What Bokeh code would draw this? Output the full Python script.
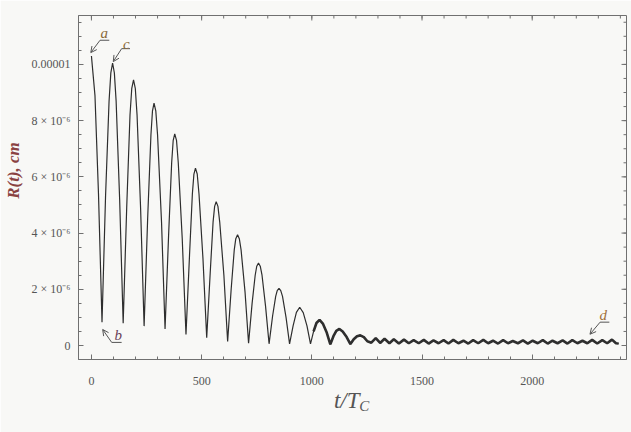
import numpy as np
from bokeh.plotting import figure
from bokeh.models import Range1d, FixedTicker, LinearAxis, Label, Arrow, OpenHead
from bokeh.embed import file_html
from bokeh.resources import INLINE

# ---------------- data (R in units of 1e-6 cm) ----------------
t_main = [0, 16, 32, 48, 64, 80, 88, 96, 104, 112, 128, 144, 160, 175, 183, 191, 199, 207, 223, 239,
          255, 270, 277, 284, 292, 300, 318, 334, 350, 364, 371, 378, 386, 394, 412, 429, 445, 458,
          465, 472, 480, 488, 506, 523, 539, 552, 559, 566, 574, 582, 601, 618, 634, 648, 655, 663,
          671, 679, 697, 713, 729, 743, 750, 758, 766, 774, 790, 806, 822, 836, 843, 851, 859, 867,
          883, 899, 915, 930, 945, 961, 978, 994, 1008, 1021, 1035, 1050, 1068, 1084, 1098, 1111,
          1125, 1140, 1158, 1175, 1190, 1205, 1220, 1236]
r_main = [10.30, 8.9, 5.4, 0.83, 5.3, 8.7, 9.7, 10.05, 9.7, 8.7, 5.2, 0.79, 4.9, 8.2, 9.15, 9.45, 9.15, 8.2, 4.9, 0.69,
          4.5, 7.5, 8.35, 8.62, 8.35, 7.5, 4.4, 0.59, 3.9, 6.5, 7.3, 7.53, 7.3, 6.5, 3.8, 0.39, 3.2, 5.4,
          6.1, 6.31, 6.1, 5.4, 3.1, 0.28, 2.6, 4.4, 4.95, 5.12, 4.95, 4.4, 2.5, 0.14, 2.0, 3.4, 3.8, 3.94,
          3.8, 3.4, 1.9, 0.08, 1.5, 2.5, 2.82, 2.93, 2.82, 2.5, 1.4, 0.06, 1.05, 1.75, 1.95, 2.03, 1.95, 1.75,
          1.0, 0.06, 0.7, 1.18, 1.36, 1.17, 0.7, 0.06, 0.5, 0.8, 0.91, 0.78, 0.45, 0.04, 0.33, 0.52,
          0.59, 0.5, 0.3, 0.05, 0.22, 0.33, 0.36, 0.3]
t_tail = [1252, 1270, 1290, 1310, 1330, 1352, 1372, 1395, 1418, 1440, 1462, 1485, 1508,
          1530, 1552, 1575, 1598, 1620, 1642, 1665, 1688, 1710, 1732, 1755, 1778, 1800,
          1822, 1845, 1868, 1890, 1912, 1935, 1958, 1980, 2002, 2025, 2048, 2070, 2092,
          2115, 2138, 2160, 2182, 2205, 2228, 2250, 2272, 2295, 2318, 2340, 2362, 2380, 2392]
r_tail = [0.15, 0.10, 0.26, 0.09, 0.24, 0.08, 0.22, 0.07, 0.21, 0.08, 0.19, 0.08, 0.20,
          0.07, 0.18, 0.08, 0.19, 0.07, 0.20, 0.08, 0.17, 0.07, 0.19, 0.08, 0.20, 0.08,
          0.17, 0.07, 0.19, 0.08, 0.16, 0.08, 0.18, 0.07, 0.17, 0.08, 0.19, 0.07, 0.17,
          0.08, 0.18, 0.07, 0.19, 0.08, 0.17, 0.08, 0.20, 0.07, 0.19, 0.08, 0.21, 0.08, 0.07]

x_tick_values = [0, 500, 1000, 1500, 2000]
x_tick_labels = ["0", "500", "1000", "1500", "2000"]
y_tick_values = [0, 2e-6, 4e-6, 6e-6, 8e-6, 1e-5]
y_tick_labels = ["0", "2 \u00d7 10\u207b\u2076", "4 \u00d7 10\u207b\u2076", "6 \u00d7 10\u207b\u2076",
                 "8 \u00d7 10\u207b\u2076", "0.00001"]
UNIT = 1e-6

# ---------------- styling ----------------
BG = "#f8f8f6"
FRAME = "#707070"
CURVE = "#2e2e2e"
TXT = "#555555"
SERIF = "Liberation Serif"
NBSP = "\u00a0"

X0, X1 = -58.7, 2427.8
Y0, Y1 = -0.498e-6, 11.74e-6
FRAME_W, FRAME_H = 551, 344

t_all = np.array(t_main + t_tail, dtype=float)
r_all = np.array(r_main + r_tail, dtype=float) * UNIT

p = figure(width=631, height=432, output_backend="svg", toolbar_location=None,
           x_range=Range1d(X0, X1), y_range=Range1d(Y0, Y1),
           min_border_left=75, min_border_right=5, min_border_top=15, min_border_bottom=73,
           background_fill_color=BG, border_fill_color=BG,
           outline_line_color=FRAME, x_axis_type=None, y_axis_type=None)
p.grid.visible = False

x_minor = [v for v in range(0, 2401, 100)]
y_minor = [i * 0.5e-6 for i in range(0, 24)]

def make_axis(ticks, minor, labels):
    ax = LinearAxis(ticker=FixedTicker(ticks=ticks, minor_ticks=minor),
                    major_tick_in=5, major_tick_out=0, minor_tick_in=3, minor_tick_out=0,
                    axis_line_color=FRAME, major_tick_line_color=FRAME, minor_tick_line_color=FRAME)
    ax.major_label_overrides = {v: l for v, l in zip(ticks, labels)}
    ax.major_label_text_font = SERIF
    ax.major_label_text_font_size = "12px"
    ax.major_label_text_color = TXT
    return ax

xb = make_axis(x_tick_values, x_minor, x_tick_labels)
xb.major_label_standoff = 17
xb.axis_label = "t/T" + NBSP * 2
xb.axis_label_text_font = SERIF
xb.axis_label_text_font_style = "italic"
xb.axis_label_text_font_size = "23px"
xb.axis_label_text_color = TXT
xb.axis_label_standoff = 0
p.add_layout(xb, "below")

# subscript "C" of the x title, drawn as the single label of a bare extra axis
C_POS = [1238]
xc = LinearAxis(ticker=FixedTicker(ticks=C_POS, minor_ticks=[]),
                major_label_overrides={C_POS[0]: "C"},
                major_tick_in=0, major_tick_out=0, axis_line_color=None,
                major_tick_line_color=None, minor_tick_line_color=None,
                major_label_text_font=SERIF, major_label_text_font_style="italic",
                major_label_text_font_size="15px", major_label_text_color=TXT,
                major_label_standoff=-18)
p.add_layout(xc, "below")

yl = make_axis(y_tick_values, y_minor, y_tick_labels)
yl.major_label_standoff = 8
yl.axis_label = NBSP * 8 + "R(t), cm"
yl.axis_label_text_font = SERIF
yl.axis_label_text_font_style = "bold italic"
yl.axis_label_text_font_size = "17px"
yl.axis_label_text_color = "#8a4242"
yl.axis_label_standoff = 6
p.add_layout(yl, "left")

# inward ticks on the top and right sides of the frame (mirroring the axis tickers)
dx_major, dx_minor = 5 * (X1 - X0) / FRAME_W, 3 * (X1 - X0) / FRAME_W
dy_major, dy_minor = 5 * (Y1 - Y0) / FRAME_H, 3 * (Y1 - Y0) / FRAME_H
p.segment(x0=x_tick_values, y0=[Y1] * len(x_tick_values), x1=x_tick_values,
          y1=[Y1 - dy_major] * len(x_tick_values), line_color=FRAME, line_width=1)
p.segment(x0=x_minor, y0=[Y1] * len(x_minor), x1=x_minor,
          y1=[Y1 - dy_minor] * len(x_minor), line_color=FRAME, line_width=1)
p.segment(x0=[X1] * len(y_tick_values), y0=y_tick_values, x1=[X1 - dx_major] * len(y_tick_values),
          y1=y_tick_values, line_color=FRAME, line_width=1)
p.segment(x0=[X1] * len(y_minor), y0=y_minor, x1=[X1 - dx_minor] * len(y_minor),
          y1=y_minor, line_color=FRAME, line_width=1)

# curve
p.line(t_all, r_all, line_color=CURVE, line_width=1.2)
mask = t_all >= 1000
p.line(t_all[mask], r_all[mask], line_color=CURVE, line_width=2.6)

# point annotations: (label, text pos, underline x0,x1,y, arrow tip, color)
annotations = [
    ("a", 58.7, 11.1e-6, 39, 81, 10.86e-6, -3, 10.42e-6, "#8a6a3a"),
    ("c", 158, 10.74e-6, 137, 175, 10.56e-6, 99, 10.1e-6, "#8a6a3a"),
    ("b", 122, 0.36e-6, 92, 137, 0.11e-6, 51, 0.57e-6, "#6a3f58"),
    ("d", 2322, 1.07e-6, 2308, 2350, 0.83e-6, 2262, 0.40e-6, "#a0703a"),
]
for lab, tx, ty, ux0, ux1, uy, ax_, ay_, col in annotations:
    p.add_layout(Label(x=tx, y=ty, text=lab, text_font=SERIF, text_font_style="italic",
                       text_font_size="15px", text_color=col, text_align="center",
                       text_baseline="middle"))
    p.segment(x0=[ux0], y0=[uy], x1=[ux1], y1=[uy], line_color="#555555", line_width=1)
    p.add_layout(Arrow(end=OpenHead(size=6, line_color="#555555", line_width=1),
                       x_start=ux0, y_start=uy, x_end=ax_, y_end=ay_,
                       line_color="#555555", line_width=1))

html = file_html(p, INLINE)
html = html.replace("<body>", '<body style="background-color:%s;">' % BG, 1)
open("out.html", "w").write(html)
